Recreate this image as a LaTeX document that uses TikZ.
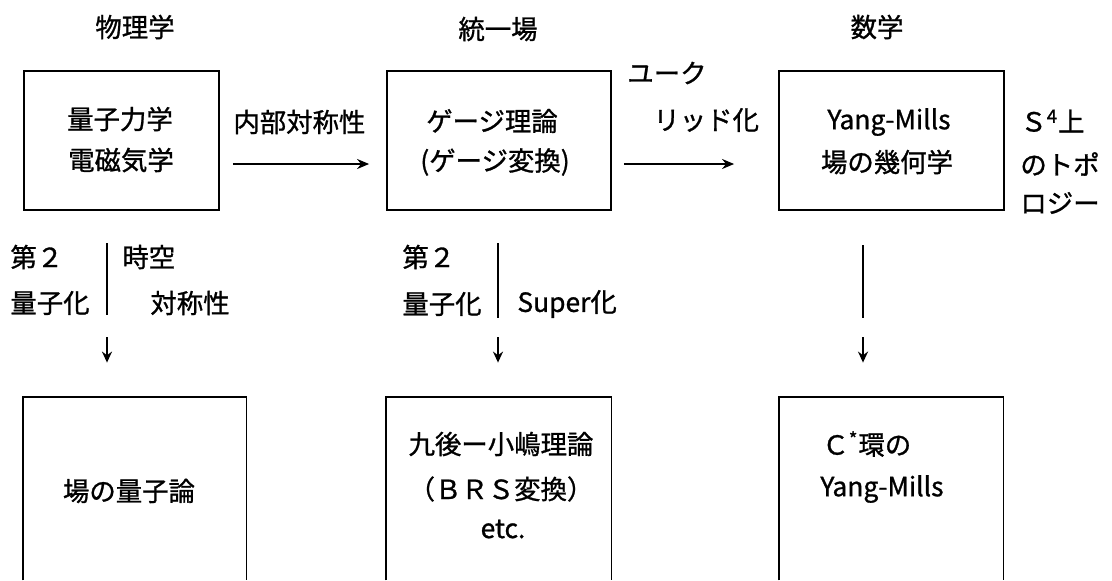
\documentclass[tikz,border=0pt]{standalone}
\usepackage{fontspec}
\setmainfont{Noto Sans CJK JP}[FakeBold=1]
\usetikzlibrary{arrows.meta,fit}
\begin{document}
\begin{tikzpicture}[x=0.5pt,y=-0.5pt,
  txt/.style={inner sep=0pt, font=\fontsize{13.2pt}{16pt}\selectfont},
  box/.style={draw, line width=0.9pt, inner sep=0pt},
  obox/.style={inner sep=0pt},
  oside/.style={line width=0.9pt},
  sep/.style={line width=0.8pt},
  arr/.style={line width=0.9pt, -{Stealth[length=6pt,width=5pt]}},
  darr/.style={line width=1pt, -{Stealth[length=5.5pt,width=5pt]}}
]
\useasboundingbox (0,0) rectangle (1112,580);

% headers
\node[txt] (h1) at (135,27) {物理学};
\node[txt] (h2) at (498,29) {統一場};
\node[txt] (h3) at (877,27) {数学};

% top boxes
\node[box, fit={(24,71) (219,210)}] (b1) {};
\node[box, fit={(387,71) (611,210)}] (b2) {};
\node[box, fit={(779,71) (1004,210)}] (b3) {};

\node[txt] (t1a) at (120,119) {量子力学};
\node[txt] (t1b) at (121,160) {電磁気学};
\node[txt] (t2a) at (492,121) {ゲージ理論};
\node[txt] (t2b) at (495,162) {(ゲージ変換)};
\node[txt] (t3a) at (889,122) {Yang-Mills};
\node[txt] (t3b) at (887,162) {場の幾何学};

% horizontal labels and arrows
\node[txt, anchor=west] (l1) at (233,122) {内部対称性};
\node[txt, anchor=west] (l2a) at (627,73) {ユーク};
\node[txt, anchor=west] (l2b) at (653,120) {リッド化};
\node[txt, anchor=west] (l3a) at (1020,121) {Ｓ\textsuperscript{4}上};
\node[txt, anchor=west] (l3b) at (1020,164) {のトポ};
\node[txt, anchor=west] (l3c) at (1020,203) {ロジー};

\draw[arr, shorten <=6.5pt, shorten >=8.5pt] (b1.east |- 0,164) -- (b2.west |- 0,164);
\draw[arr, shorten <=6pt, shorten >=22pt] (b2.east |- 0,164) -- (b3.west |- 0,164);

% bottom (open) boxes
\node[obox, fit={(23,397) (246,580)}] (b4) {};
\node[obox, fit={(386,397) (611,580)}] (b5) {};
\node[obox, fit={(779,397) (1003,580)}] (b6) {};
\draw[oside] (b4.south west) -- (b4.north west) -- (b4.north east) -- (b4.south east);
\draw[oside] (b5.south west) -- (b5.north west) -- (b5.north east) -- (b5.south east);
\draw[oside] (b6.south west) -- (b6.north west) -- (b6.north east) -- (b6.south east);

\node[txt] (t4) at (129,491) {場の量子論};
\node[txt] (t5a) at (501,444) {九後ー小嶋理論};
\node[txt] (t5b) at (501,489) {（ＢＲＳ変換）};
\node[txt] (t5c) at (503,529) {etc.};
\node[txt, anchor=west] (t6a) at (822,444) {Ｃ\textsuperscript{*}環の};
\node[txt, anchor=west] (t6b) at (820,489) {Yang-Mills};

% left column labels
\node[txt, anchor=west] (p1) at (10,257) {第２};
\node[txt, anchor=west] (p2) at (10,303) {量子化};
\node[txt, anchor=west] (p3) at (122,257) {時空};
\node[txt, anchor=west] (p4) at (150,303) {対称性};
% middle column labels
\node[txt, anchor=west] (q1) at (402,257) {第２};
\node[txt, anchor=west] (q2) at (402,304) {量子化};
\node[txt, anchor=west] (q3) at (517,304) {Super化};

% separators
\coordinate (s1a) at (107,243); \coordinate (s1b) at (107,315);
\coordinate (s2a) at (498,243); \coordinate (s2b) at (498,318);
\coordinate (s3a) at (863,245); \coordinate (s3b) at (863,318);
\draw[sep] (s1a) -- (s1b);
\draw[sep] (s2a) -- (s2b);
\draw[sep] (s3a) -- (s3b);

% down arrows
\coordinate (d1) at (107,337);
\coordinate (d2) at (498,337);
\coordinate (d3) at (863,337);
\draw[darr, shorten >=17pt] (d1) -- (d1 |- b4.north);
\draw[darr, shorten >=17pt] (d2) -- (d2 |- b5.north);
\draw[darr, shorten >=17pt] (d3) -- (d3 |- b6.north);
\end{tikzpicture}
\end{document}
